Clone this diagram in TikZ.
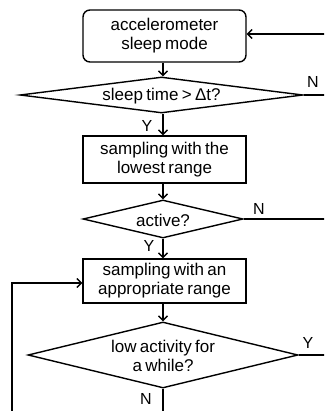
\documentclass[tikz,border=0pt]{standalone}
\usepackage{fontspec}
\setmainfont{Liberation Sans}[WordSpace=0.7]
\usetikzlibrary{shapes.geometric,arrows.meta}
\begin{document}
\begin{tikzpicture}[x=1pt,y=-1pt,
  line width=1.4pt,
  every node/.style={font=\fontsize{17}{19}\selectfont, align=center, inner sep=0pt},
  procbox/.style={draw, minimum width=163pt, inner sep=0pt},
  decision/.style={draw, shape=diamond, inner sep=0pt},
  yn/.style={font=\fontsize{16}{19}\selectfont},
  arr/.style={-{Straight Barb[length=4.5pt,width=9pt,line width=1.3pt]}},
  conn/.style={line width=1.4pt}]
\useasboundingbox (0,0) rectangle (324,411);
\clip (0,0) rectangle (324,411);
\fill[white] (0,0) rectangle (324,411);

% boxes
\node[procbox, rounded corners=7pt, minimum height=52pt] (b1) at (164.5,36) {accelerometer\\sleep mode};
\node[decision, minimum width=283pt, minimum height=36pt] (d1) at (161.5,95) {};
\node (t1) at (161.5,96) {sleep time > Δt?};
\node[procbox, minimum height=47pt] (b2) at (164.5,159.5) {sampling with the\\lowest range};
\node[decision, minimum width=160pt, minimum height=38pt] (d2) at (163,219) {};
\node (t2) at (163,220) {active?};
\node[procbox, minimum height=44pt] (b3) at (164.5,281) {sampling with an\\appropriate range};
\node[decision, minimum width=270pt, minimum height=66pt] (d3) at (163,355) {};
\node (t3) at (163,356) {low activity for\\a while?};

% labels
\node[yn] (n1) at (313,82) {N};
\node[yn] (y1) at (147,126) {Y};
\node[yn] (n2) at (259,209) {N};
\node[yn] (y2) at (149,246) {Y};
\node[yn] (y3) at (308,343) {Y};
\node[yn] (n3) at (146,399) {N};

% free ends beyond the picture edge
\coordinate (r1) at (340,34);
\coordinate (r2) at (340,95);
\coordinate (r3) at (340,219);
\coordinate (r4) at (340,355);
\coordinate (bot) at (163,430);
\coordinate (lb) at (12,430);
\coordinate (lt) at (12,283);

% connectors
\draw[arr] (b1.south -| 163,0) -- (d1.north -| 163,0);
\draw[arr] (d1.south -| 163,0) -- (b2.north -| 163,0);
\draw[arr] (b2.south -| 163,0) -- (d2.north);
\draw[arr] (d2.south) -- (b3.north -| 163,0);
\draw[arr] (b3.south -| 163,0) -- (d3.north);
\draw[arr] (r1) -- (r1 -| b1.east);
\draw[conn] (d1.east) -- (r2);
\draw[conn] (d2.east) -- (r3);
\draw[conn] (d3.east) -- (r4);
\draw[conn] (d3.south) -- (bot);
\draw[arr] (lb) -- (lt) -- (lt -| b3.west);
\end{tikzpicture}
\end{document}
